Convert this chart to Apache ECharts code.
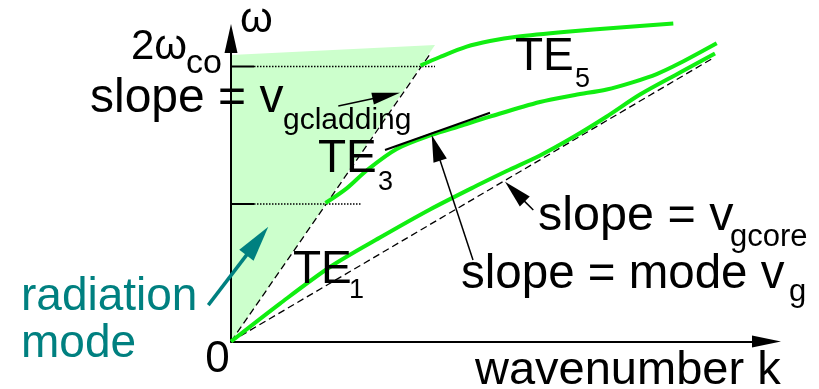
<!DOCTYPE html>
<html><head><meta charset="utf-8">
<script src="https://cdn.jsdelivr.net/npm/echarts@6/dist/echarts.min.js"></script>
<style>html,body{margin:0;padding:0;background:#fff}#c{width:819px;height:389px}</style>
</head><body><div id="c"></div>
<script>
// ---- data (k in arbitrary units, omega in units of omega_co) ----
const te1 = [[0,0],[0.49,0.276],[0.99,0.542],[1.49,0.756],[1.99,0.96],[2.49,1.145],[2.757,1.24],[3.09,1.353],[3.423,1.487],[3.75,1.633],[4.09,1.796],[4.49,1.956],[4.84,2.095]];
const te3 = [[0.945,1.007],[1.157,1.114],[1.357,1.244],[1.657,1.4],[2.007,1.502],[2.29,1.567],[2.59,1.636],[3.09,1.742],[3.44,1.793],[3.757,1.833],[4.023,1.887],[4.257,1.945],[4.49,2.025],[4.857,2.169]];
const te5 = [[1.895,2.007],[2.09,2.069],[2.357,2.144],[2.59,2.185],[2.857,2.217],[3.357,2.253],[3.89,2.284],[4.423,2.313]];
const claddingLine = [[0,0],[1.99,2.09]];
const coreLine = [[0,0],[4.83,2.065]];
const radiationRegion = [[0,0],[0,2.084],[2.04,2.156]];
const tickLevels = [1, 2];
const tickEnd = 0.23;
const dottedEnds = [1.307, 2.04];
const tangentTE3 = [[1.54,1.393],[2.59,1.664]];
const arrowCladding = [1.073,1.713,1.69,1.809];
const arrowModeVg = [2.42,0.593,2.007,1.502];
const arrowCore = [3.023,0.956,2.74,1.162];
const arrowRadiation = [-0.227,0.265,0.373,0.835];

const GREEN = '#11ee11', TEAL = '#008080', FONT = '"Liberation Sans", Arial, sans-serif';

function arrowSeries(vals, color, lw, hl, hw) {
  return {
    type: 'custom', coordinateSystem: 'cartesian2d', z: 5, clip: false, silent: true,
    data: [vals],
    renderItem: function (params, api) {
      const a = api.coord([api.value(0), api.value(1)]);
      const b = api.coord([api.value(2), api.value(3)]);
      const dx = b[0]-a[0], dy = b[1]-a[1], L = Math.sqrt(dx*dx+dy*dy);
      const ux = dx/L, uy = dy/L, px = -uy, py = ux;
      const bx = b[0]-ux*hl, by = b[1]-uy*hl;
      return { type: 'group', children: [
        { type: 'line', shape: {x1:a[0], y1:a[1], x2:bx+ux*2, y2:by+uy*2}, style: {stroke: color, lineWidth: lw} },
        { type: 'polygon', shape: {points: [[b[0],b[1]],[bx+px*hw/2, by+py*hw/2],[bx-px*hw/2, by-py*hw/2]]}, style: {fill: color} }
      ]};
    }
  };
}
function seg(data, opts) {
  return Object.assign({ type: 'line', data: data, symbol: 'none', clip: false, silent: true, animation: false,
    lineStyle: { color: '#000', width: 1.3 } }, opts);
}
const series = [];
series.push({
  type: 'custom', coordinateSystem: 'cartesian2d', z: -1, silent: true, data: [[0,0]],
  renderItem: function (params, api) {
    return { type: 'polygon', shape: { points: radiationRegion.map(p => api.coord(p)) }, style: { fill: '#ccffcc' } };
  }
});
tickLevels.forEach(function (lv, i) {
  series.push(seg([[0,lv],[tickEnd,lv]], { lineStyle: { color:'#000', width: 2 } }));
  series.push(seg([[tickEnd,lv],[dottedEnds[i],lv]], { lineStyle: { color:'#000', width: 1.5, type: [1.5,1.5] } }));
});
series.push(seg(claddingLine, { lineStyle: { color:'#000', width: 1.3, type: [7,4] } }));
series.push(seg(coreLine, { lineStyle: { color:'#000', width: 1.3, type: [7,4] } }));
[te1, te3, te5].forEach(function (d) {
  series.push(seg(d, { smooth: 0.3, z: 3, lineStyle: { color: GREEN, width: 4 } }));
});
series.push(seg(tangentTE3, { z: 4, lineStyle: { color:'#000', width: 2 } }));
series.push(arrowSeries(arrowCladding, '#000', 1.5, 28, 12));
series.push(arrowSeries(arrowModeVg, '#000', 1.5, 27, 14));
series.push(arrowSeries(arrowCore, '#000', 1.5, 28, 14));
series.push(arrowSeries(arrowRadiation, TEAL, 3.5, 36, 18));

function T(x, baseline, text, fs, color, align) {
  return { type: 'text', x: x, y: baseline - 0.347*fs, z: 100, silent: true,
    style: { text: text, font: fs + 'px ' + FONT, fill: color || '#000', align: align || 'left', verticalAlign: 'middle' } };
}
const texts = [
  T(240, 35, 'ω', 42),
  T(131, 61.7, '2ω', 42), T(186, 75, 'co', 34),
  T(90, 115, 'slope = v', 48), T(283, 130.7, 'gcladding', 30),
  T(293, 286.7, 'TE', 46), T(349, 300, '1', 27),
  T(318, 175, 'TE', 46), T(378, 191.7, '3', 27),
  T(515, 73.3, 'TE', 46), T(575, 89, '5', 27),
  T(538, 233.3, 'slope = v', 48.5), T(730, 248.3, 'gcore', 31),
  T(461, 291.7, 'slope = mode v', 47.5), T(789, 303.3, 'g', 31),
  T(217.5, 375, '0', 44, '#000', 'center'),
  T(21, 313.3, 'radiation', 46, TEAL), T(21, 360, 'mode', 46, TEAL),
  T(475, 387, 'wavenumber k', 47)
];

const chart = echarts.init(document.getElementById('c'), null, { renderer: 'canvas' });
chart.setOption({
  animation: false,
  backgroundColor: '#fff',
  grid: { left: 231, right: 48, top: 32.125, bottom: 47.5 },
  xAxis: { type: 'value', min: 0, max: 5.4, splitLine: { show: false }, axisTick: { show: false }, axisLabel: { show: false },
    axisLine: { show: true, lineStyle: { color: '#000', width: 2 }, symbol: ['none','triangle'], symbolSize: [12,29], symbolOffset: [0,-4.5] } },
  yAxis: { type: 'value', min: 0, max: 2.25, splitLine: { show: false }, axisTick: { show: false }, axisLabel: { show: false },
    axisLine: { show: true, lineStyle: { color: '#000', width: 2 }, symbol: ['none','triangle'], symbolSize: [13,29], symbolOffset: [0,-6.375] } },
  series: series,
  graphic: texts
});
</script></body></html>
